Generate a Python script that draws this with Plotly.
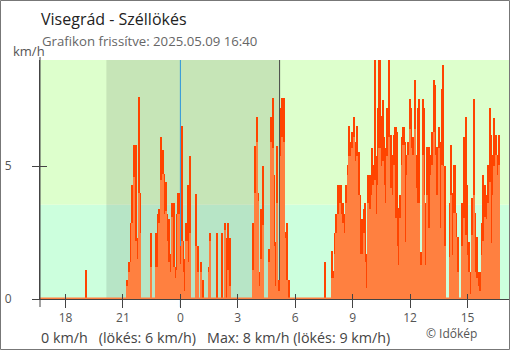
import pandas as pd
import plotly.graph_objects as go

# ---- 5-minute wind readings, km/h (gust = lökés, avg = mean wind) ----
evening_start = "2025-05-08 19:05"
evening_gust = [1.1]
evening_avg = [0.0]

night_start = "2025-05-08 21:15"
night_gust = [
    0.7, 1.4, 2.85, 4.3, 5.8, 5.8, 2.3, 7.6, 4.0,                 # 21:15-21:55
    0, 0, 0, 0, 0, 0, 2.5, 0, 0, 2.5, 3.2, 3.4,                   # 22
    6.1, 5.6, 4.7, 4.4, 3.2, 3.0, 1.7, 3.6, 3.6, 1.2, 3.2, 4.0,   # 23
    2.0, 6.5, 2.2, 1.5, 2.85, 4.3, 5.4, 0, 0, 0, 3.95, 2.0,       # 00
    0, 1.4, 0.7, 0, 0, 0, 1.2, 2.5, 0, 0, 0, 2.5,                 # 01
    0, 0, 2.5, 0, 2.85, 2.3, 2.85, 2.3,                           # 02:00-02:35
]
night_avg = [
    0.5, 1.0, 1.4, 2.85, 4.6, 2.2, 1.5, 4.0, 2.5,
    0, 0, 0, 0, 0, 0, 1.2, 0, 0, 1.2, 1.2, 2.85,
    4.5, 4.7, 3.2, 3.3, 2.2, 1.4, 1.0, 3.1, 1.2, 0.8, 1.1, 3.2,
    1.3, 2.2, 1.0, 0.3, 2.2, 1.4, 2.5, 0, 0, 0, 2.0, 1.0,
    0, 1.0, 0, 0, 0, 0, 1.0, 2.2, 0, 0, 0, 0,
    0, 0, 0, 0, 2.6, 0, 1.1, 0.5,
]

dawn_start = "2025-05-09 03:50"
dawn_gust = [2.85, 5.76, 6.84, 4.0, 1.0, 3.4, 5.0, 0, 0, 0, 1.9, 6.84,
             7.58, 4.67, 2.16, 5.76, 0.7, 7.2, 7.58, 7.58, 2.54, 2.85, 0.7]
dawn_avg = [1.1, 4.0, 5.9, 3.7, 0.5, 1.5, 2.8, 0, 0, 0, 1.4, 5.9,
            5.7, 2.0, 0.5, 3.6, 0.3, 5.4, 6.1, 5.9, 2.3, 0.7, 0]

early_start = "2025-05-09 07:35"
early_gust = [1.4]
early_avg = [0.0]

day_start = "2025-05-09 07:55"
day_gust = [
    1.8,                                                                    # 07:55
    1.05, 2.5, 3.2, 4.3, 4.3, 4.3, 3.6, 3.2, 4.3, 5.05, 6.5, 5.9,           # 08
    6.3, 6.86, 5.9, 6.5, 5.55, 3.9, 3.0, 3.4, 3.6, 1.7, 4.67, 4.67,         # 09
    5.7, 5.05, 9.0, 5.4, 7.2, 9.0, 6.9, 7.5, 6.1, 5.7, 7.2, 9.0,            # 10
    6.17, 5.42, 6.17, 6.49, 6.3, 3.41, 3.92, 6.11, 6.49, 5.92, 5.42, 5.92,  # 11
    7.55, 7.18, 6.11, 8.24, 5.42, 7.18, 7.55, 1.78, 7.55, 7.18, 3.6, 5.74,  # 12
    5.74, 5.42, 6.3, 8.24, 8.06, 5.74, 6.49, 5.92, 7.9, 8.81, 5.0, 0,       # 13
    0, 3.6, 5.8, 3.98, 5.05, 3.23, 2.35, 0, 0, 3.6, 6.11, 6.86,             # 14
    4.3, 2.16, 1.03, 3.79, 7.55, 3.23, 2.35, 1.03, 1.03, 2.85, 4.67, 4.3,   # 15
    3.92, 5.05, 7.18, 6.17, 5.42, 6.8, 6.17, 5.42, 6.17,                    # 16:00-16:40
]
day_avg = [
    0.8,
    0.8, 1.7, 2.5, 3.2, 3.6, 3.2, 2.85, 2.5, 3.6, 4.67, 5.4, 5.4,
    5.7, 6.1, 5.2, 5.4, 3.9, 1.7, 1.7, 2.5, 1.4, 0.4, 3.6, 3.4,
    3.9, 4.3, 4.5, 3.2, 4.3, 5.7, 5.0, 5.2, 4.3, 3.6, 5.4, 6.1,
    4.17, 3.92, 5.05, 3.04, 2.0, 1.28, 3.04, 5.05, 5.8, 2.16, 4.67, 5.42,
    6.42, 5.67, 5.42, 6.4, 4.17, 3.6, 3.6, 1.28, 5.42, 3.92, 1.28, 3.92,
    2.66, 4.67, 5.05, 6.3, 5.42, 3.92, 5.67, 2.66, 5.05, 5.0, 2.0, 0,
    0, 1.6, 3.9, 1.66, 3.23, 2.35, 1.03, 0, 0, 2.0, 3.04, 2.41,
    1.66, 1.03, 0.2, 2.41, 3.92, 1.03, 0.8, 0.5, 0.3, 1.66, 2.2, 3.1,
    3.0, 3.6, 4.4, 2.1, 3.92, 5.0, 5.42, 4.67, 5.05,
]

segments = [
    (evening_start, evening_gust, evening_avg),
    (night_start, night_gust, night_avg),
    (dawn_start, dawn_gust, dawn_avg),
    (early_start, early_gust, early_avg),
    (day_start, day_gust, day_avg),
]

# ---- time frame and day/night markers ----
window_start = "2025-05-08 16:40"
window_end = "2025-05-09 16:40"
axis_end = "2025-05-09 17:10"
sunset = "2025-05-08 20:08"
sunrise = "2025-05-09 05:11"
midnight = "2025-05-09 00:00"
first_tick = "2025-05-08 18:00"
tick_hours = 3
calm_limit = 3.55
y_max = 9
y_ticks = [0, 5]

title = "Visegrád - Széllökés"
subtitle = "Grafikon frissítve: 2025.05.09 16:40"
summary = "0 km/h\u00a0\u00a0\u00a0(lökés: 6 km/h)\u00a0\u00a0\u00a0Max: 8 km/h (lökés: 9 km/h)"
credit = "© Időkép"
unit = "km/h"

STEP = "5min"
times, gusts, avgs = [], [], []
for start, g, a in segments:
    stamps = pd.date_range(start, periods=len(g), freq=STEP)
    times.extend(stamps)
    gusts.extend(g)
    avgs.extend(a)

GUST_COLOR = "#ff4400"
AVG_COLOR = "#ff8040"
FONT = "Open Sans"
bar_ms = 5 * 60 * 1000

fig = go.Figure()
fig.add_trace(go.Bar(x=times, y=gusts, width=bar_ms, marker=dict(color=GUST_COLOR, line=dict(width=0)),
                     hoverinfo="skip"))
fig.add_trace(go.Bar(x=times, y=avgs, width=bar_ms, marker=dict(color=AVG_COLOR, line=dict(width=0)),
                     hoverinfo="skip"))
# zero-level strip across the measured period
fig.add_trace(go.Scatter(x=[window_start, window_end], y=[0, 0], mode="lines",
                         line=dict(color=AVG_COLOR, width=3), xaxis="x2", yaxis="y2",
                         hoverinfo="skip"))

W, H = 510, 350
L, R, T, B = 40, 1, 60, 51
pw, ph = W - L - R, H - T - B


def px_x(p):
    return (p - L) / pw


def px_y(p):
    return (H - B - p) / ph


shapes = [
    dict(type="rect", xref="paper", yref="y", x0=0, x1=1, y0=0, y1=calm_limit,
         fillcolor="#ccffdd", line=dict(width=0), layer="below"),
    dict(type="rect", xref="paper", yref="y", x0=0, x1=1, y0=calm_limit, y1=y_max,
         fillcolor="#ddffcc", line=dict(width=0), layer="below"),
    dict(type="rect", xref="x", yref="paper", x0=sunset, x1=sunrise, y0=0, y1=1,
         fillcolor="rgba(0,0,0,0.1)", line=dict(width=0), layer="below"),
    dict(type="line", xref="x", yref="paper", x0=midnight, x1=midnight, y0=-8 / ph, y1=1,
         line=dict(color="#2b95dc", width=1), layer="below"),
    dict(type="line", xref="x", yref="paper", x0=sunrise, x1=sunrise, y0=0, y1=1,
         line=dict(color="#444444", width=1), layer="below"),
    dict(type="line", xref="paper", yref="paper", x0=0, x1=0, y0=-8 / ph, y1=px_y(57),
         line=dict(color="#444444", width=1)),
    dict(type="rect", xref="paper", yref="paper", x0=px_x(0.5), x1=px_x(509.5),
         y0=px_y(349.5), y1=px_y(0.5), line=dict(color="#777777", width=1)),
]

annotations = [
    dict(text=title, x=px_x(40), y=px_y(19), xref="paper", yref="paper", xanchor="left",
         yanchor="middle", showarrow=False, font=dict(family=FONT, size=16, color="#222222")),
    dict(text=subtitle, x=px_x(40.5), y=px_y(41), xref="paper", yref="paper", xanchor="left",
         yanchor="middle", showarrow=False, font=dict(family=FONT, size=13.2, color="#666666")),
    dict(text=unit, x=px_x(12), y=px_y(51), xref="paper", yref="paper", xanchor="left",
         yanchor="middle", showarrow=False, font=dict(family=FONT, size=13, color="#555555")),
    dict(text=summary, x=px_x(40), y=px_y(337), xref="paper", yref="paper", xanchor="left",
         yanchor="middle", showarrow=False, font=dict(family=FONT, size=14.3, color="#444444")),
    dict(text=credit, x=px_x(425), y=px_y(333), xref="paper", yref="paper", xanchor="left",
         yanchor="middle", showarrow=False, font=dict(family=FONT, size=12, color="#555555")),
]
for a in annotations:
    a["borderpad"] = 0

tick_ms = tick_hours * 3600 * 1000
x_common = dict(type="date", range=[window_start, axis_end], tick0=first_tick, dtick=tick_ms,
                showgrid=False, zeroline=False, tickcolor="#444444", tickwidth=1)

fig.update_layout(
    width=W, height=H, margin=dict(l=L, r=R, t=T, b=B, pad=0),
    paper_bgcolor="white", plot_bgcolor="white",
    barmode="overlay", bargap=0, showlegend=False,
    font=dict(family=FONT, color="#555555", size=12),
    shapes=shapes, annotations=annotations,
    xaxis=dict(**x_common, ticks="outside", ticklen=8, tickformat="%-H",
               showline=True, linecolor="#444444", linewidth=1,
               tickfont=dict(family=FONT, size=12, color="#555555")),
    xaxis2=dict(**x_common, overlaying="x", matches="x", side="bottom", ticks="inside",
                ticklen=5, showticklabels=False, showline=False),
    yaxis=dict(range=[0, y_max], tickmode="array", tickvals=y_ticks, ticks="outside", ticklen=7,
               tickcolor="#444444", showline=True, linecolor="#444444", linewidth=1,
               showgrid=False, zeroline=False, ticklabelstandoff=18,
               tickfont=dict(family=FONT, size=12, color="#555555")),
    yaxis2=dict(range=[0, y_max], overlaying="y", matches="y", tickmode="array", tickvals=y_ticks,
                ticks="inside", ticklen=7, tickcolor="#444444", showticklabels=False,
                showline=False, showgrid=False, zeroline=False),
)

fig.write_html("out.html")
